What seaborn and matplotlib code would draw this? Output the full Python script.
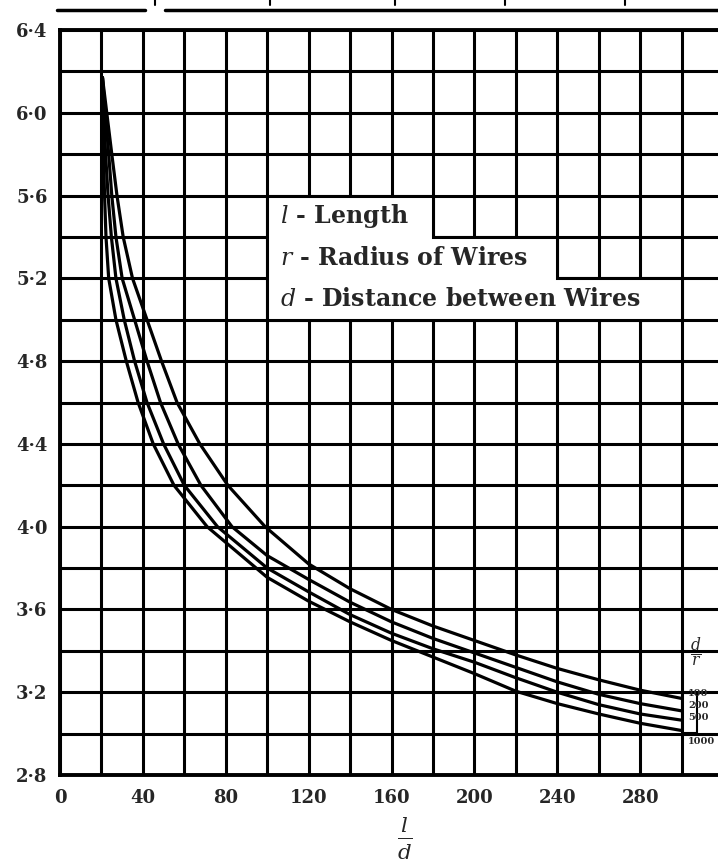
import numpy as np
import pandas as pd
import matplotlib
matplotlib.use('Agg')
import matplotlib.pyplot as plt
import seaborn as sns
from matplotlib.lines import Line2D
from matplotlib.patches import Polygon, Rectangle

# ─── Data ────────────────────────────────────────────────────────────────────
# one curve per d/r ratio, (l/d, value) pairs
c100_x = [20.5, 25, 27.5, 30.5, 35, 42, 49, 56.5, 67.5, 81, 99, 120, 140, 160, 180, 200, 220, 240, 260, 280, 300]
c100_y = [6.17, 5.8, 5.6, 5.4, 5.2, 5.0, 4.8, 4.6, 4.4, 4.2, 4.0, 3.82, 3.70, 3.60, 3.52, 3.45, 3.38, 3.315, 3.26, 3.21, 3.17]

c200_x = [20.5, 23.5, 25, 27, 30, 36, 42, 48.5, 57, 68, 83, 100, 120, 140, 160, 180, 200, 220, 240, 260, 280, 300]
c200_y = [6.17, 5.8, 5.6, 5.4, 5.2, 5.0, 4.8, 4.6, 4.4, 4.2, 4.0, 3.86, 3.745, 3.635, 3.54, 3.46, 3.39, 3.32, 3.25, 3.19, 3.145, 3.11]

c500_x = [20.5, 22, 23.2, 24.8, 27, 31, 36, 42, 50, 60, 76, 100, 120, 140, 160, 180, 200, 220, 240, 260, 280, 300]
c500_y = [6.17, 5.8, 5.6, 5.4, 5.2, 5.0, 4.8, 4.6, 4.4, 4.2, 4.0, 3.80, 3.685, 3.575, 3.485, 3.41, 3.345, 3.27, 3.20, 3.14, 3.095, 3.065]

c1000_x = [20.5, 21, 21.5, 22.2, 23.5, 27, 32, 37.7, 45, 55, 71, 100, 120, 140, 160, 180, 200, 220, 240, 260, 280, 300]
c1000_y = [6.17, 5.8, 5.6, 5.4, 5.2, 5.0, 4.8, 4.6, 4.4, 4.2, 4.0, 3.755, 3.64, 3.54, 3.45, 3.37, 3.29, 3.205, 3.145, 3.095, 3.05, 3.015]

ratio_labels = ['100', '200', '500', '1000']

x_ticks = [0, 40, 80, 120, 160, 200, 240, 280]
y_ticks = [2.8, 3.2, 3.6, 4.0, 4.4, 4.8, 5.2, 5.6, 6.0, 6.4]
y_tick_labels = ['2·8', '3·2', '3·6', '4·0', '4·4', '4·8', '5·2', '5·6', '6·0', '6·4']

legend_lines = [r'$\mathit{l}$ - Length', r'$\mathit{r}$ - Radius of Wires', r'$\mathit{d}$ - Distance between Wires']

frames = []
for lab, xs, ys in zip(ratio_labels, [c100_x, c200_x, c500_x, c1000_x], [c100_y, c200_y, c500_y, c1000_y]):
    frames.append(pd.DataFrame({'ld': xs, 'k': ys, 'dr': lab}))
df = pd.concat(frames, ignore_index=True)

# ─── Plot ────────────────────────────────────────────────────────────────────
sns.set_style('white')
plt.rcParams['font.family'] = ['DejaVu Serif']
plt.rcParams['mathtext.fontset'] = 'dejavuserif'

W, H = 718, 860
fig = plt.figure(figsize=(W / 100, H / 100), dpi=100)
ax = fig.add_axes([60 / W, 85 / H, 663 / W, 745 / H])

sns.lineplot(data=df, x='ld', y='k', hue='dr', palette=['black'] * 4, legend=False,
             linewidth=2.3, estimator=None, ax=ax, zorder=3)

ax.set_xlim(0, 320)
ax.set_ylim(2.8, 6.4)
ax.set_xticks(x_ticks)
ax.set_xticks(np.arange(0, 321, 20), minor=True)
ax.set_yticks(y_ticks)
ax.set_yticks(np.arange(2.8, 6.41, 0.2), minor=True)
ax.set_yticklabels(y_tick_labels)
ax.grid(which='both', color='black', linewidth=2.2)
ax.tick_params(which='both', length=0)
ax.tick_params(axis='y', pad=9, labelsize=13)
ax.tick_params(axis='x', pad=10, labelsize=13)
for t in ax.get_xticklabels() + ax.get_yticklabels():
    t.set_fontweight('bold')
for s in ax.spines.values():
    s.set_color('black')
    s.set_linewidth(2.8)
ax.set_xlabel('')
ax.set_ylabel('')

# stepped white box holding the key
box = Polygon([(100, 5.6), (180, 5.6), (180, 5.4), (240, 5.4), (240, 5.2),
               (300, 5.2), (300, 5.0), (100, 5.0)], closed=True,
              facecolor='white', edgecolor='black', linewidth=2.2, zorder=4)
ax.add_patch(box)
for i, txt in enumerate(legend_lines):
    ax.text(106, 5.5 - 0.2 * i, txt, fontsize=17, fontweight='bold',
            va='center', ha='left', zorder=5)

# x axis label  l / d
fig.text(405 / W, 1 - 838 / H, r'$\frac{l}{d}$', fontsize=22, ha='center', va='center')

# d/r key on the right edge
fig.text(690 / W, 1 - 652 / H, r'$\frac{d}{r}$', fontsize=16, ha='left', va='center')
for lab, yp in zip(ratio_labels, [694, 705, 718, 742]):
    fig.text(688 / W, 1 - yp / H, lab, fontsize=7, fontweight='bold', ha='left', va='center')
fig.add_artist(Rectangle((682 / W, 1 - 733 / H), 15 / W, 40 / H, transform=fig.transFigure,
                         facecolor='none', edgecolor='black', linewidth=1.5))

# remnant of the chart above
fig.add_artist(Line2D([57 / W, 145 / W], [1 - 10 / H] * 2, transform=fig.transFigure, color='black', lw=2.5))
fig.add_artist(Line2D([165 / W, 1.0], [1 - 10 / H] * 2, transform=fig.transFigure, color='black', lw=2.5))
for xp in [155, 270, 395, 505, 625]:
    fig.add_artist(Line2D([xp / W] * 2, [1 - 0 / H, 1 - 5 / H], transform=fig.transFigure, color='black', lw=1.5))

fig.savefig('out.png', dpi=100)
